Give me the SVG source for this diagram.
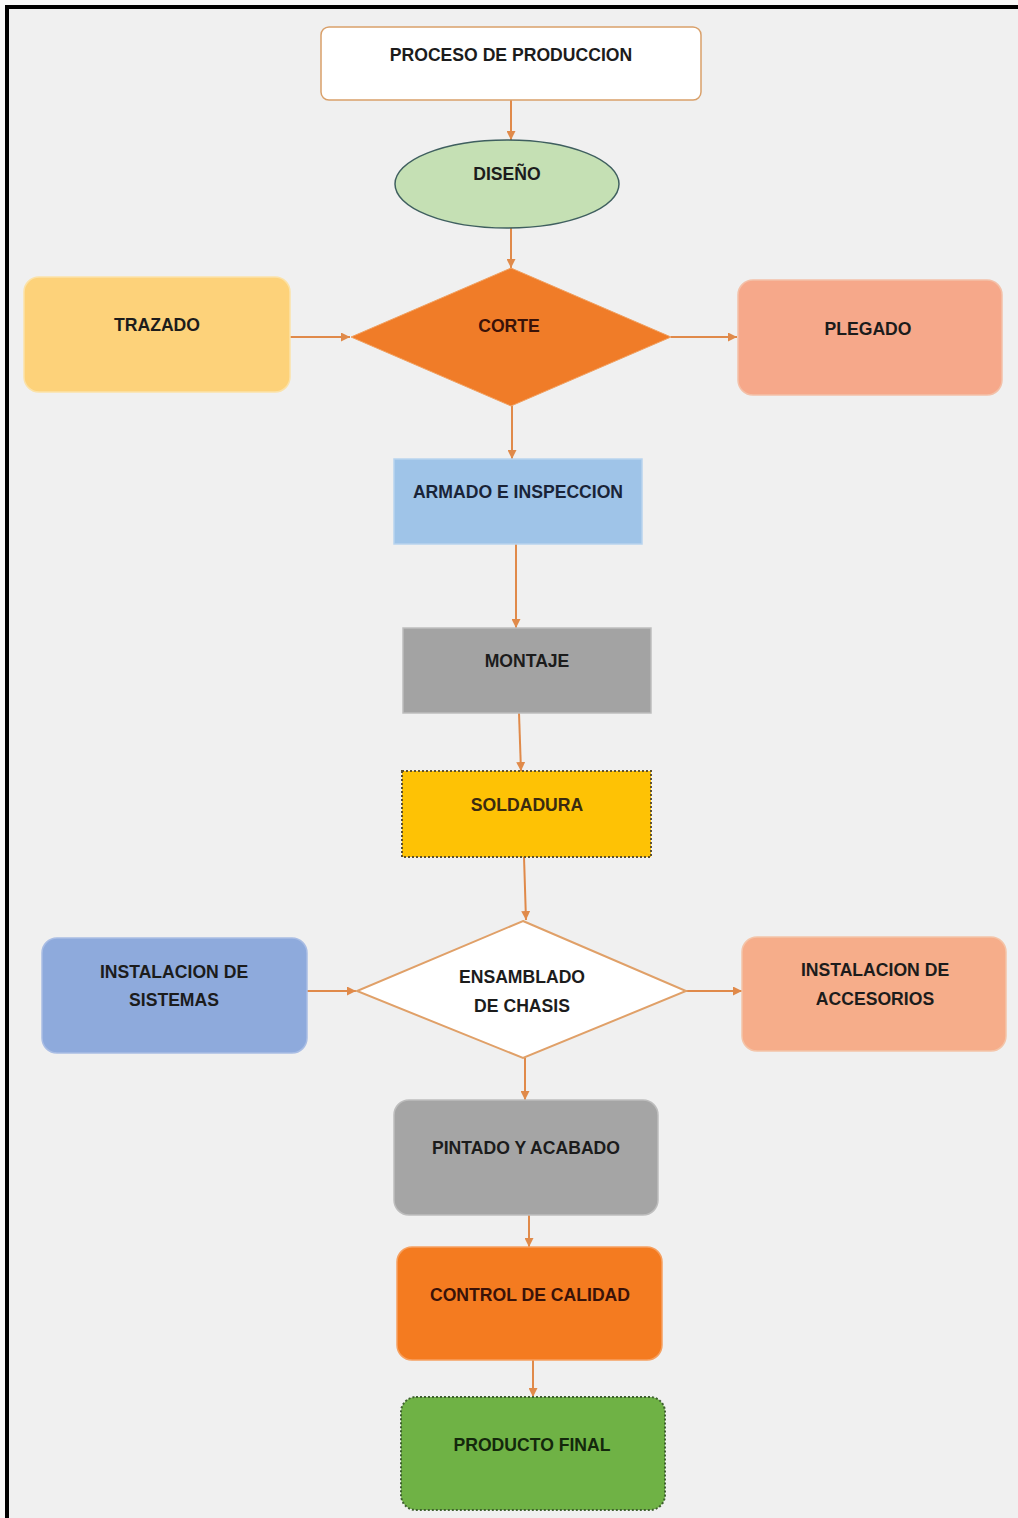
<svg xmlns="http://www.w3.org/2000/svg" width="1018" height="1518" viewBox="0 0 1018 1518">
  <style>
    .lbl { font-family: "Liberation Sans", Arial, sans-serif; font-weight: bold; font-size: 17.6px; text-anchor: middle; dominant-baseline: central; fill: #1c1c1c; }
    .conn { stroke: #e08a4a; stroke-width: 2; fill: none; marker-end: url(#arrow); }
    .box { stroke-width: 1.5; }
    .dotted { stroke-dasharray: 2 2; stroke-width: 2; }
  </style>
  <defs>
    <marker id="arrow" viewBox="0 0 10 10" refX="10" refY="5" markerWidth="9" markerHeight="9" orient="auto" markerUnits="userSpaceOnUse">
      <path d="M0,0 L10,5 L0,10 z" fill="#e08a4a"/>
    </marker>
  </defs>

  <!-- page background and frame -->
  <rect x="0" y="0" width="1018" height="1518" fill="#f9f9f9"/>
  <rect x="7" y="7" width="1020" height="1520" fill="#f0f0f0" stroke="#000" stroke-width="4"/>

  <!-- connectors -->
  <g id="connectors">
    <path class="conn" d="M511,100 V140"/>
    <path class="conn" d="M511,228 V268"/>
    <path class="conn" d="M290,337 H350"/>
    <path class="conn" d="M671,337 H737"/>
    <path class="conn" d="M512,406 V459"/>
    <path class="conn" d="M516,544 V628"/>
    <path class="conn" d="M519,713 L521,771"/>
    <path class="conn" d="M524,857 L526,920"/>
    <path class="conn" d="M307,991 H356"/>
    <path class="conn" d="M686,991 H742"/>
    <path class="conn" d="M525,1058 V1100"/>
    <path class="conn" d="M529,1215 V1247"/>
    <path class="conn" d="M533,1360 V1397"/>
  </g>

  <g id="proceso">
    <rect class="box" x="321" y="27" width="380" height="73" rx="8" fill="#ffffff" stroke="#d9a06a"/>
    <text class="lbl" x="511" y="55">PROCESO DE PRODUCCION</text>
  </g>

  <g id="diseno">
    <ellipse cx="507" cy="184" rx="112" ry="44" fill="#c5e0b4" stroke="#3f5f5f" stroke-width="1.5"/>
    <text class="lbl" x="507" y="174">DISEÑO</text>
  </g>

  <g id="trazado">
    <rect class="box" x="24" y="277" width="266" height="115" rx="15" fill="#fdd27a" stroke="#fbe2a8"/>
    <text class="lbl" x="157" y="325">TRAZADO</text>
  </g>

  <g id="corte">
    <polygon points="511,268 671,337 511,406 351,337" fill="#f07c28" stroke="#f0a060" stroke-width="1"/>
    <text class="lbl" x="509" y="326" style="fill:#3a1208">CORTE</text>
  </g>

  <g id="plegado">
    <rect class="box" x="738" y="280" width="264" height="115" rx="15" fill="#f6a88a" stroke="#f3c0a8"/>
    <text class="lbl" x="868" y="329">PLEGADO</text>
  </g>

  <g id="armado">
    <rect class="box" x="394" y="459" width="248" height="85" fill="#9fc4e8" stroke="#b8d3ee"/>
    <text class="lbl" x="518" y="492" style="fill:#1a2438">ARMADO E INSPECCION</text>
  </g>

  <g id="montaje">
    <rect class="box" x="403" y="628" width="248" height="85" fill="#a3a3a3" stroke="#bdbdbd"/>
    <text class="lbl" x="527" y="661">MONTAJE</text>
  </g>

  <g id="soldadura">
    <rect class="dotted" x="402" y="771" width="249" height="86" fill="#fec205" stroke="#5c5030"/>
    <text class="lbl" x="527" y="805" style="fill:#3a2a10">SOLDADURA</text>
  </g>

  <g id="sistemas">
    <rect class="box" x="42" y="938" width="265" height="115" rx="15" fill="#8eaadc" stroke="#a9bde4"/>
    <text class="lbl" x="174" y="972">INSTALACION DE</text>
    <text class="lbl" x="174" y="1000">SISTEMAS</text>
  </g>

  <g id="ensamblado">
    <polygon points="523,921 686,991 523,1058 357,991" fill="#ffffff" stroke="#e0a068" stroke-width="2"/>
    <text class="lbl" x="522" y="977">ENSAMBLADO</text>
    <text class="lbl" x="522" y="1006">DE CHASIS</text>
  </g>

  <g id="accesorios">
    <rect class="box" x="742" y="937" width="264" height="114" rx="15" fill="#f6ad8a" stroke="#f4c4a8"/>
    <text class="lbl" x="875" y="970">INSTALACION DE</text>
    <text class="lbl" x="875" y="999">ACCESORIOS</text>
  </g>

  <g id="pintado">
    <rect class="box" x="394" y="1100" width="264" height="115" rx="15" fill="#a5a5a5" stroke="#bdbdbd"/>
    <text class="lbl" x="526" y="1148">PINTADO Y ACABADO</text>
  </g>

  <g id="control">
    <rect class="box" x="397" y="1247" width="265" height="113" rx="15" fill="#f47b20" stroke="#f6a060"/>
    <text class="lbl" x="530" y="1295" style="fill:#3a1208">CONTROL DE CALIDAD</text>
  </g>

  <g id="producto">
    <rect class="dotted" x="401" y="1397" width="264" height="113" rx="15" fill="#6fb245" stroke="#3f6030"/>
    <text class="lbl" x="532" y="1445" style="fill:#14280c">PRODUCTO FINAL</text>
  </g>
</svg>
